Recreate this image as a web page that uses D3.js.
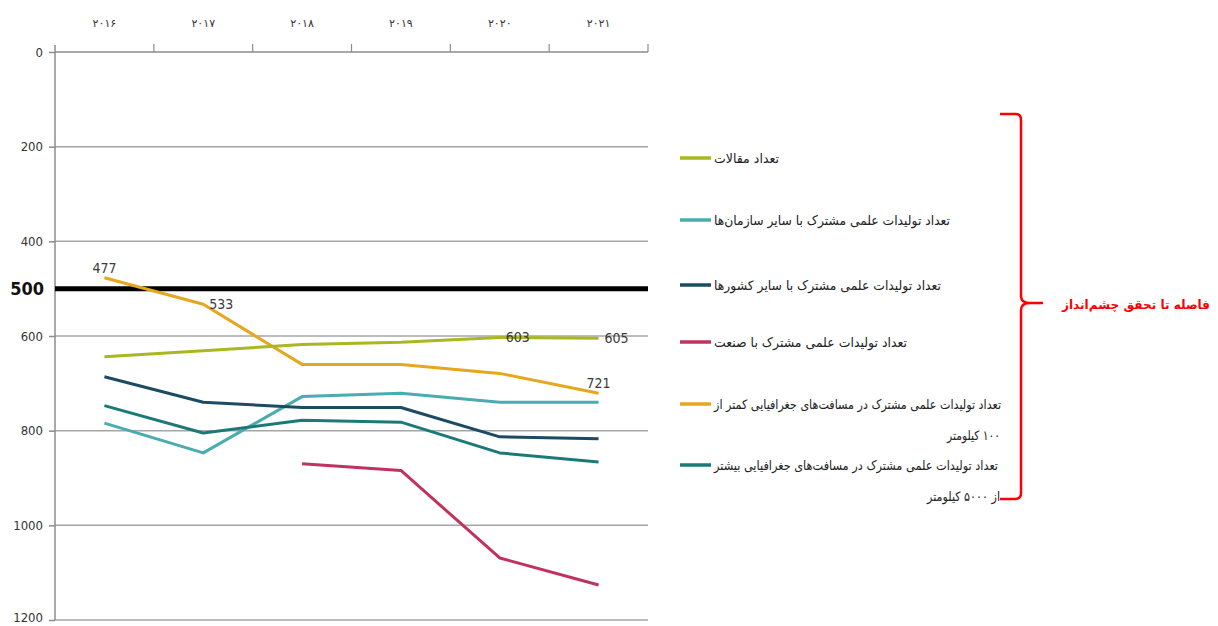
<!DOCTYPE html>
<html>
<head>
<meta charset="utf-8">
<script src="https://cdn.jsdelivr.net/npm/d3@7"></script>
<style>
  body { margin: 0; background: #fff; }
  svg { display: block; }
</style>
</head>
<body>
<div id="chart"></div>
<script>
// data (y axis is reversed: 0 on top)
const years = ["2016", "2017", "2018", "2019", "2020", "2021"];
const yearLabels = ["۲۰۱۶", "۲۰۱۷", "۲۰۱۸", "۲۰۱۹", "۲۰۲۰", "۲۰۲۱"];
const yTicks = [0, 200, 400, 600, 800, 1000, 1200];
const targetValue = 500;

const articles       = [644, 631, 618, 613, 603, 605];
const otherOrgs      = [784, 847, 728, 721, 740, 740];
const otherCountries = [686, 740, 751, 751, 813, 817];
const industry       = [null, null, 870, 884, 1069, 1126];
const under100km     = [477, 533, 660, 660, 679, 721];
const over5000km     = [747, 805, 778, 782, 847, 866];

const seriesNames = [
  ["تعداد مقالات"],
  ["تعداد تولیدات علمی مشترک با سایر سازمان‌ها"],
  ["تعداد تولیدات علمی مشترک با سایر کشورها"],
  ["تعداد تولیدات علمی مشترک با صنعت"],
  ["تعداد تولیدات علمی مشترک در مسافت‌های جغرافیایی کمتر از", "۱۰۰ کیلومتر"],
  ["تعداد تولیدات علمی مشترک در مسافت‌های جغرافیایی بیشتر", "از ۵۰۰۰ کیلومتر"]
];
const seriesColors = ["#a9b820", "#4aabb0", "#1c4b62", "#c2325e", "#e6a61e", "#1b7a78"];
const allSeries = [articles, otherOrgs, otherCountries, industry, under100km, over5000km];

// which points carry a value label: [series index, year index, placement]
const valueLabels = [
  [4, 0, "above"], [4, 1, "right"], [0, 4, "right"], [0, 5, "right"], [4, 5, "above"]
];

const bracketLabel = "فاصله تا تحقق چشم‌انداز";

// === layout ===
const W = 1218, H = 626;
const plot = { left: 55, right: 648, top: 52, bottom: 620 };
const numFont = "'DejaVu Sans Condensed', 'Liberation Sans Narrow', 'Liberation Sans', Arial, sans-serif";

const svg = d3.select("#chart").append("svg")
  .attr("width", W)
  .attr("height", H);

const x = d3.scaleBand()
  .domain(years)
  .range([plot.left, plot.right])
  .padding(0);

const y = d3.scaleLinear()
  .domain([0, 1200])
  .range([plot.top, plot.bottom]);

const cx = d => x(d) + x.bandwidth() / 2;

// gridlines
svg.append("g")
  .selectAll("line")
  .data(yTicks.slice(1))
  .join("line")
    .attr("x1", plot.left)
    .attr("x2", plot.right)
    .attr("y1", d => y(d))
    .attr("y2", d => y(d))
    .attr("stroke", "#a6a6a6")
    .attr("stroke-width", 1.5);

// left axis
const yAxis = d3.axisLeft(y)
  .tickValues(yTicks)
  .tickFormat(d3.format("d"))
  .tickSize(6)
  .tickPadding(6);
const gy = svg.append("g")
  .attr("transform", `translate(${plot.left},0)`)
  .call(yAxis);
gy.select(".domain").remove();
gy.selectAll(".tick line").attr("stroke", "#8c8c8c").attr("stroke-width", 1.5);
gy.selectAll(".tick text")
  .attr("fill", "#333")
  .attr("dy", d => d === 1200 ? "0.1em" : "0.32em")
  .style("font-family", numFont)
  .style("font-size", "13px");

svg.append("line")
  .attr("x1", plot.left).attr("x2", plot.left)
  .attr("y1", plot.top - 7).attr("y2", plot.bottom)
  .attr("stroke", "#8c8c8c")
  .attr("stroke-width", 1.5);

// top axis: ticks at band edges, labels centred in bands
svg.append("line")
  .attr("x1", plot.left).attr("x2", plot.right)
  .attr("y1", plot.top).attr("y2", plot.top)
  .attr("stroke", "#8c8c8c")
  .attr("stroke-width", 1.5);

const edges = years.map(d => x(d)).concat([plot.right]).slice(1);
svg.append("g")
  .selectAll("line")
  .data(edges)
  .join("line")
    .attr("x1", d => d).attr("x2", d => d)
    .attr("y1", plot.top - 8).attr("y2", plot.top)
    .attr("stroke", "#8c8c8c")
    .attr("stroke-width", 1.2);

svg.append("g")
  .selectAll("text")
  .data(years)
  .join("text")
    .attr("x", d => cx(d))
    .attr("y", 27)
    .attr("text-anchor", "middle")
    .attr("fill", "#333")
    .style("font-family", "'DejaVu Sans', sans-serif")
    .style("font-size", "11px")
    .text((d, i) => yearLabels[i]);

// target line at 500
svg.append("line")
  .attr("x1", plot.left).attr("x2", plot.right)
  .attr("y1", y(targetValue)).attr("y2", y(targetValue))
  .attr("stroke", "#000")
  .attr("stroke-width", 5);

svg.append("text")
  .attr("x", plot.left - 11)
  .attr("y", y(targetValue))
  .attr("dy", "0.35em")
  .attr("text-anchor", "end")
  .attr("fill", "#111")
  .style("font-family", numFont)
  .style("font-size", "18px")
  .style("font-weight", "bold")
  .text(targetValue);

// series lines
const line = d3.line()
  .defined(d => d.v != null)
  .x(d => cx(d.year))
  .y(d => y(d.v));

const drawOrder = [4, 0, 1, 2, 5, 3];
drawOrder.forEach(i => {
  const pts = years.map((yr, j) => ({ year: yr, v: allSeries[i][j] }));
  svg.append("path")
    .datum(pts)
    .attr("d", line)
    .attr("fill", "none")
    .attr("stroke", seriesColors[i])
    .attr("stroke-width", 3)
    .attr("stroke-linejoin", "round");
});

// value labels
svg.append("g")
  .selectAll("text")
  .data(valueLabels)
  .join("text")
    .attr("x", d => cx(years[d[1]]) + (d[2] === "right" ? 6 : 0))
    .attr("y", d => y(allSeries[d[0]][d[1]]) + (d[2] === "right" ? 5 : -5))
    .attr("text-anchor", d => d[2] === "right" ? "start" : "middle")
    .attr("fill", "#3a3a3a")
    .style("font-family", numFont)
    .style("font-size", "14px")
    .text(d => allSeries[d[0]][d[1]]);

// legend
const legendY = [158, 220, 285, 342, 404, 465];
const legendWidths = [[65], [236], [227], [193], [287, 53], [284, 73]];
const legendRight = 1000;
const legend = svg.append("g");

seriesNames.forEach((lines, i) => {
  legend.append("line")
    .attr("x1", 680).attr("x2", 711)
    .attr("y1", legendY[i]).attr("y2", legendY[i])
    .attr("stroke", seriesColors[i])
    .attr("stroke-width", 3.5);

  lines.forEach((txt, k) => {
    const w = legendWidths[i][k];
    const left = k === 0 ? 714 : legendRight - w;
    legend.append("text")
      .attr("x", left + w / 2)
      .attr("y", legendY[i] + 5 + k * 31)
      .attr("text-anchor", "middle")
      .attr("direction", "rtl")
      .attr("textLength", w)
      .attr("lengthAdjust", "spacingAndGlyphs")
      .attr("fill", "#222")
      .style("font-family", "'DejaVu Sans', sans-serif")
      .style("font-size", "13px")
      .text(txt);
  });
});

// red curly bracket
const b = d3.path();
b.moveTo(1000, 114);
b.lineTo(1016, 114);
b.quadraticCurveTo(1021, 114, 1021, 120);
b.lineTo(1021, 296);
b.quadraticCurveTo(1021, 303, 1030, 303);
b.lineTo(1043, 303);
b.moveTo(1030, 303);
b.quadraticCurveTo(1021, 303, 1021, 310);
b.lineTo(1021, 493);
b.quadraticCurveTo(1021, 499, 1015, 499);
b.lineTo(1000, 499);

svg.append("path")
  .attr("d", b.toString())
  .attr("fill", "none")
  .attr("stroke", "#ff0000")
  .attr("stroke-width", 2.5);

svg.append("text")
  .attr("x", 1136)
  .attr("y", 309)
  .attr("text-anchor", "middle")
  .attr("direction", "rtl")
  .attr("textLength", 148)
  .attr("lengthAdjust", "spacingAndGlyphs")
  .attr("fill", "#ff0000")
  .style("font-family", "'DejaVu Sans', sans-serif")
  .style("font-size", "12.5px")
  .style("font-weight", "bold")
  .text(bracketLabel);
</script>
</body>
</html>
